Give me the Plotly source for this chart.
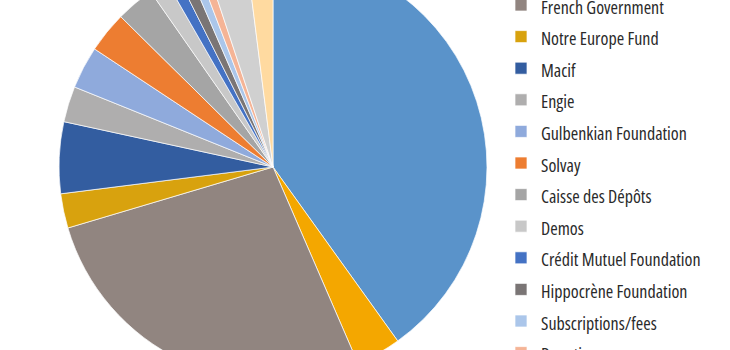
import plotly.graph_objects as go

# Funding sources, clockwise from 12 o'clock (shares in %)
labels = [
    "European Commission",
    "Other public funding",
    "French Government",
    "Notre Europe Fund",
    "Macif",
    "Engie",
    "Gulbenkian Foundation",
    "Solvay",
    "Caisse des Dépôts",
    "Demos",
    "Crédit Mutuel Foundation",
    "Hippocrène Foundation",
    "Subscriptions/fees",
    "Donations",
    "Other partners",
    "Miscellaneous",
]
shares = [40.1, 3.4, 26.9, 2.6, 5.4, 2.7, 3.2, 3.1, 2.9, 1.4, 0.9, 0.9, 0.7, 0.7, 3.1, 2.0]
colors = [
    "#5A93CA", "#F4A700", "#918580", "#D8A20E", "#335DA0", "#AFAEAE",
    "#8FAADC", "#ED7D31", "#A5A5A5", "#C8C8C8", "#4472C4", "#7A7575",
    "#ABC6EA", "#F5B496", "#D0D0D0", "#FFDAA0",
]

W, H = 730, 520
SHIFT = 79  # page offset: the visible window shows rows SHIFT..SHIFT+350

legend_text = [
    '<span style="font-family:\'Open Sans\';font-stretch:condensed;font-size:18px">%s</span>' % s
    for s in labels
]

# pie centre at (273, 167) in the visible window, radius 214
cx, cy, r = 273, 167 + SHIFT, 214

fig = go.Figure(
    go.Pie(
        labels=legend_text,
        values=shares,
        sort=False,
        direction="clockwise",
        rotation=0,
        textinfo="none",
        hoverinfo="skip",
        marker=dict(colors=colors, line=dict(color="white", width=0.7)),
        domain=dict(x=[(cx - r) / W, (cx + r) / W], y=[(H - cy - r) / H, (H - cy + r) / H]),
    )
)

fig.update_layout(
    width=W,
    height=H,
    margin=dict(l=0, r=0, t=0, b=0, autoexpand=False),
    paper_bgcolor="white",
    plot_bgcolor="white",
    showlegend=True,
    legend=dict(
        x=501 / W,
        xanchor="left",
        y=1,
        yanchor="top",
        maxheight=2000,
        font=dict(family="Open Sans, sans-serif", size=22, color="#2a2a2a"),
        bgcolor="rgba(0,0,0,0)",
    ),
)

post = (
    "document.documentElement.style.overflow='hidden';"
    "document.body.style.overflow='hidden';"
    "var d=document.getElementById('{plot_id}');"
    "d.style.marginTop='-%dpx';" % SHIFT
)

fig.write_html("out.html", post_script=post)
